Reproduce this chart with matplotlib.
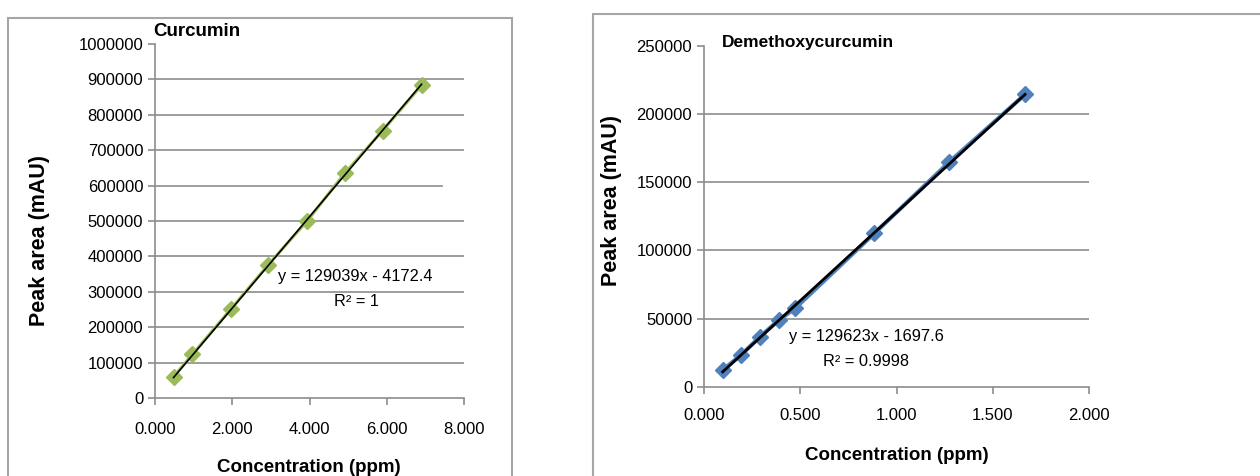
import numpy as np
import matplotlib.pyplot as plt
from matplotlib.patches import Rectangle

plt.rcParams['font.family'] = ['Liberation Sans', 'DejaVu Sans']

# Curcumin calibration points
cur_x = [0.48, 0.97, 1.96, 2.93, 3.94, 4.91, 5.89, 6.90]
cur_y = [60000, 123500, 250500, 376000, 500500, 634500, 755000, 883500]
cur_fit = (129039, -4172.4)
cur_yticks = [0, 100000, 200000, 300000, 400000, 500000, 600000, 700000, 800000, 900000, 1000000]
cur_xticks = [0, 2, 4, 6, 8]
cur_xlabels = ['0.000', '2.000', '4.000', '6.000', '8.000']

# Demethoxycurcumin calibration points
dmc_x = [0.097, 0.19, 0.291, 0.39, 0.473, 0.885, 1.273, 1.668]
dmc_y = [12200, 23000, 36700, 49000, 57500, 112500, 164700, 214500]
dmc_fit = (129623, -1697.6)
dmc_yticks = [0, 50000, 100000, 150000, 200000, 250000]
dmc_xticks = [0, 0.5, 1, 1.5, 2]
dmc_xlabels = ['0.000', '0.500', '1.000', '1.500', '2.000']

W, H = 1260, 476
fig = plt.figure(figsize=(W / 100, H / 100), dpi=100)

def px(x, y):
    # pixel position -> figure fraction
    return x / W, 1 - y / H

grey = '#8c8c8c'

# panel frames
fig.add_artist(Rectangle(px(8, 490), 504 / W, 472 / H, transform=fig.transFigure,
                         fill=False, edgecolor='#a6a6a6', lw=1.5))
fig.add_artist(Rectangle(px(593, 490), 700 / W, 476 / H, transform=fig.transFigure,
                         fill=False, edgecolor='#a6a6a6', lw=1.5))

def style(ax, xticks, xlabels, yticks, xlim, ylim, xpad):
    ax.set_xlim(*xlim)
    ax.set_ylim(*ylim)
    for s in ['top', 'right']:
        ax.spines[s].set_visible(False)
    for s in ['left', 'bottom']:
        ax.spines[s].set_color(grey)
        ax.spines[s].set_linewidth(1.2)
    ax.set_xticks(xticks)
    ax.set_xticklabels(xlabels, fontsize=12)
    ax.set_yticks(yticks)
    ax.set_yticklabels([str(v) for v in yticks], fontsize=12)
    ax.tick_params(colors=grey, labelcolor='black', length=5, width=1.2)
    ax.tick_params(axis='x', pad=xpad)
    ax.patch.set_alpha(0)

# ---- left: Curcumin ----
ax1 = fig.add_axes([155 / W, (H - 398) / H, 309 / W, 354 / H])
style(ax1, cur_xticks, cur_xlabels, cur_yticks, (0, 8), (0, 1000000), 12)
for v in cur_yticks[1:-1]:
    xmax = 7.44 if v == 600000 else 8
    ax1.plot([0, xmax], [v, v], color=grey, lw=1.2, zorder=0)
ax1.plot(cur_x, cur_y, color='#9bbb59', lw=2.2, marker='D', ms=8.5, zorder=2)
fx = np.array([cur_x[0], cur_x[-1]])
ax1.plot(fx, cur_fit[0] * fx + cur_fit[1], color='black', lw=1.2, zorder=3)

fig.text(*px(153, 32), 'Curcumin', fontsize=13.5, fontweight='bold', va='center', ha='left')
fig.text(*px(40, 240), 'Peak area (mAU)', fontsize=15.5, fontweight='bold',
         rotation=90, va='center', ha='center')
fig.text(*px(309, 459), 'Concentration (ppm)', fontsize=13.5, fontweight='bold',
         va='top', ha='center')
fig.text(*px(355, 276), 'y = 129039x - 4172.4', fontsize=11.8, va='center', ha='center')
fig.text(*px(356, 302), 'R² = 1', fontsize=11.8, va='center', ha='center')

# ---- right: Demethoxycurcumin ----
ax2 = fig.add_axes([704 / W, (H - 386.7) / H, 385 / W, 340.7 / H])
style(ax2, dmc_xticks, dmc_xlabels, dmc_yticks, (0, 2), (0, 250000), 10)
for v in dmc_yticks[1:-1]:
    ax2.plot([0, 2], [v, v], color=grey, lw=1.2, zorder=0)
ax2.plot(dmc_x, dmc_y, color='#4f81bd', lw=3, marker='D', ms=8.5, zorder=2)
fx = np.array([dmc_x[0], dmc_x[-1]])
ax2.plot(fx, dmc_fit[0] * fx + dmc_fit[1], color='black', lw=2, zorder=3)

fig.text(*px(722, 43), 'Demethoxycurcumin', fontsize=12.5, fontweight='bold', va='center', ha='left')
fig.text(*px(612, 201), 'Peak area (mAU)', fontsize=15.5, fontweight='bold',
         rotation=90, va='center', ha='center')
fig.text(*px(897, 455), 'Concentration (ppm)', fontsize=13.5, fontweight='bold',
         va='center', ha='center')
fig.text(*px(866, 337), 'y = 129623x - 1697.6', fontsize=11.8, va='center', ha='center')
fig.text(*px(866, 362), 'R² = 0.9998', fontsize=11.8, va='center', ha='center')

fig.savefig('out.png', dpi=100)
